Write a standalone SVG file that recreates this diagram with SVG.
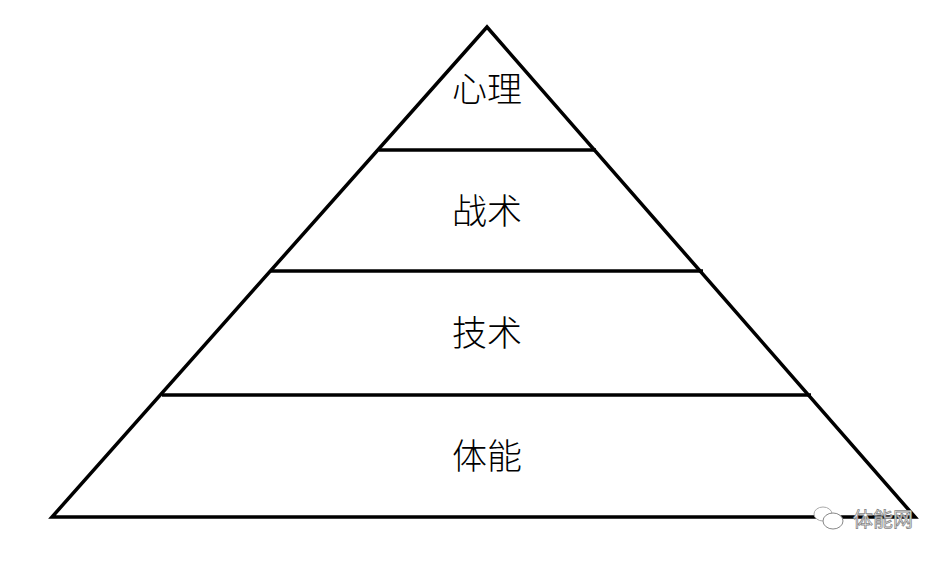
<svg xmlns="http://www.w3.org/2000/svg" width="950" height="561" viewBox="0 0 950 561">
<style>
.l{stroke:#000;stroke-width:3.5;fill:none}
.t{font-family:"Noto Sans CJK SC",sans-serif;font-size:35px;font-weight:300;text-anchor:middle;fill:#000}
.w{font-family:"Noto Sans CJK SC",sans-serif;font-size:20px;fill:#fff;stroke:#888;stroke-width:0.8}
</style>
<rect width="950" height="561" fill="#fff"/>
<g id="connectors">
<polygon class="l" points="487,27 52,517 915,517"/>
<line class="l" x1="379" y1="150" x2="596" y2="150"/>
<line class="l" x1="271" y1="271" x2="703" y2="271"/>
<line class="l" x1="162" y1="395" x2="811" y2="395"/>
</g>
<g id="n1"><text class="t" x="487" y="102">心理</text></g>
<g id="n2"><text class="t" x="487" y="224">战术</text></g>
<g id="n3"><text class="t" x="487" y="346">技术</text></g>
<g id="n4"><text class="t" x="487" y="469">体能</text></g>
<g id="wm">
<ellipse cx="823" cy="514" rx="9" ry="7" fill="#fff" stroke="#aaa" stroke-width="1"/>
<ellipse cx="833" cy="521" rx="10" ry="8" fill="#fff" stroke="#888" stroke-width="1"/>
<text class="w" x="853" y="527">体能网</text>
</g>
</svg>
